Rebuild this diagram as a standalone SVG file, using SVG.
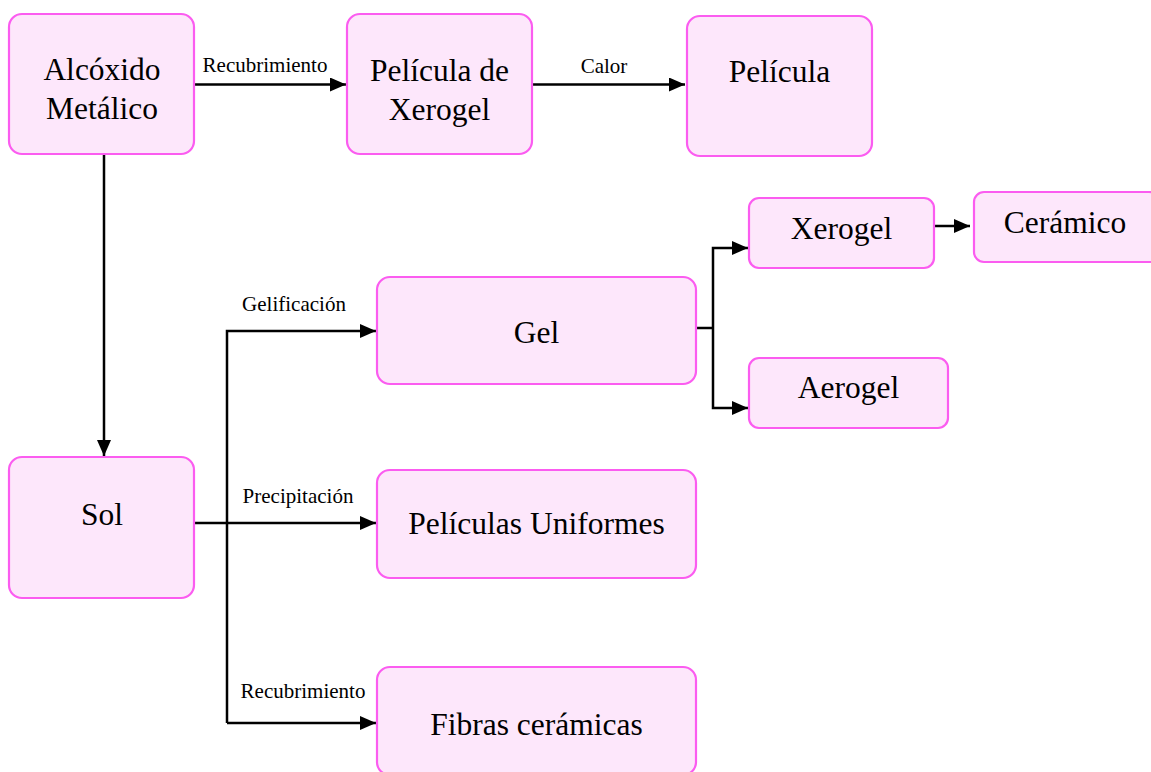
<svg xmlns="http://www.w3.org/2000/svg" width="1151" height="772" viewBox="0 0 1151 772">
<defs>
<style>
.box{fill:#fde7fb;stroke:#fb5cf0;stroke-width:2.2}
.t{font-family:"Liberation Serif","Times New Roman",serif;font-size:31.5px;fill:#000;text-anchor:middle}
.l{font-family:"Liberation Serif","Times New Roman",serif;font-size:21px;fill:#000;text-anchor:middle}
.c{fill:none;stroke:#000;stroke-width:2.5}
</style>
<marker id="ah" markerUnits="userSpaceOnUse" markerWidth="16" markerHeight="14" refX="16" refY="7" orient="auto">
<path d="M0,0 L16,7 L0,14 z" fill="#000"/>
</marker>
</defs>
<rect width="1151" height="772" fill="#fff"/>
<g id="connectors">
<path class="c" d="M194,84.5 H346" marker-end="url(#ah)"/>
<path class="c" d="M532,84.5 H685" marker-end="url(#ah)"/>
<path class="c" d="M104,154 V456" marker-end="url(#ah)"/>
<path class="c" d="M194,523 H376" marker-end="url(#ah)"/>
<path class="c" d="M227,723 V331 H376" marker-end="url(#ah)"/>
<path class="c" d="M227,723 H376" marker-end="url(#ah)"/>
<path class="c" d="M696,328 H713"/>
<path class="c" d="M713,328 V248 H748" marker-end="url(#ah)"/>
<path class="c" d="M713,328 V408 H748" marker-end="url(#ah)"/>
<path class="c" d="M934,226 H970" marker-end="url(#ah)"/>
<text class="l" x="265" y="72">Recubrimiento</text>
<text class="l" x="604" y="73">Calor</text>
<text class="l" x="294" y="311">Gelificación</text>
<text class="l" x="298" y="503">Precipitación</text>
<text class="l" x="303" y="698">Recubrimiento</text>
</g>
<g id="alcoxido">
<rect class="box" x="9" y="14" width="185" height="140" rx="13"/>
<text class="t" x="102" y="80">Alcóxido</text>
<text class="t" x="102" y="119">Metálico</text>
</g>
<g id="pelicula-xerogel">
<rect class="box" x="347" y="14" width="185" height="140" rx="13"/>
<text class="t" x="439.5" y="81">Película de</text>
<text class="t" x="439.5" y="120">Xerogel</text>
</g>
<g id="pelicula">
<rect class="box" x="687" y="16" width="185" height="140" rx="13"/>
<text class="t" x="779.5" y="82">Película</text>
</g>
<g id="sol">
<rect class="box" x="9" y="457" width="185" height="141" rx="13"/>
<text class="t" x="102" y="525">Sol</text>
</g>
<g id="gel">
<rect class="box" x="377" y="277" width="319" height="107" rx="13"/>
<text class="t" x="536.5" y="343">Gel</text>
</g>
<g id="peliculas-uniformes">
<rect class="box" x="377" y="470" width="319" height="108" rx="13"/>
<text class="t" x="536.5" y="534">Películas Uniformes</text>
</g>
<g id="fibras">
<rect class="box" x="377" y="667" width="319" height="108" rx="13"/>
<text class="t" x="536.5" y="735">Fibras cerámicas</text>
</g>
<g id="xerogel">
<rect class="box" x="749" y="198" width="185" height="70" rx="10"/>
<text class="t" x="841.5" y="239">Xerogel</text>
</g>
<g id="aerogel">
<rect class="box" x="749" y="358" width="199" height="70" rx="10"/>
<text class="t" x="848.5" y="398">Aerogel</text>
</g>
<g id="ceramico">
<rect class="box" x="974" y="192" width="185" height="70" rx="10"/>
<text class="t" x="1065" y="233">Cerámico</text>
</g>
</svg>
